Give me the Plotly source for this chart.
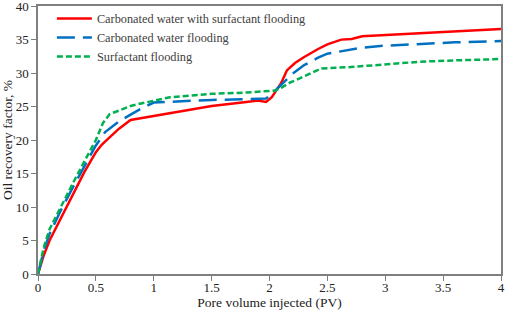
import plotly.graph_objects as go

red_x = [0, 0.05, 0.1, 0.2, 0.3, 0.4, 0.5, 0.55, 0.6, 0.7, 0.8, 0.9, 1.0, 1.2, 1.5, 1.8, 1.9, 1.97, 2.02, 2.1, 2.15, 2.22, 2.3, 2.42, 2.5, 2.62, 2.71, 2.8, 3.0, 3.2, 3.4, 3.6, 3.8, 4.0]
red_y = [0, 2.8, 5.0, 8.4, 11.8, 15.2, 18.2, 19.3, 20.1, 21.7, 23.0, 23.3, 23.7, 24.3, 25.1, 25.7, 25.9, 25.7, 26.4, 28.5, 30.4, 31.5, 32.4, 33.6, 34.3, 35.0, 35.1, 35.5, 35.7, 35.9, 36.1, 36.2, 36.5, 36.6]

blue_x = [0, 0.05, 0.1, 0.2, 0.3, 0.4, 0.5, 0.58, 0.7, 0.8, 0.9, 1.0, 1.2, 1.5, 1.8, 1.97, 2.02, 2.1, 2.2, 2.3, 2.42, 2.5, 2.6, 2.8, 3.0, 3.3, 3.6, 4.0]
blue_y = [0, 3.5, 6.0, 9.6, 12.9, 16.1, 19.2, 21.2, 22.8, 23.8, 24.8, 25.6, 25.8, 26.0, 26.1, 26.2, 26.9, 28.3, 29.9, 31.2, 32.3, 32.9, 33.2, 33.8, 34.1, 34.4, 34.6, 34.8]

green_x = [0, 0.05, 0.1, 0.2, 0.3, 0.4, 0.5, 0.56, 0.62, 0.7, 0.8, 0.9, 1.0, 1.14, 1.5, 1.8, 2.05, 2.1, 2.18, 2.3, 2.38, 2.45, 2.7, 3.0, 3.3, 3.6, 4.0]
green_y = [0, 4.0, 6.7, 10.2, 13.5, 16.8, 20.0, 22.5, 23.9, 24.4, 25.1, 25.5, 25.9, 26.4, 26.9, 27.1, 27.4, 27.8, 28.6, 29.5, 30.1, 30.7, 30.9, 31.3, 31.7, 31.9, 32.1]

names = ["Carbonated water with surfactant flooding", "Carbonated water flooding", "Surfactant flooding"]
x_ticks = [0, 0.5, 1, 1.5, 2, 2.5, 3, 3.5, 4]
x_tick_labels = ["0", "0.5", "1", "1.5", "2", "2.5", "3", "3.5", "4"]
y_ticks = [0, 5, 10, 15, 20, 25, 30, 35, 40]

FONT = "Liberation Serif"
fig = go.Figure()
fig.add_trace(go.Scatter(x=red_x, y=red_y, mode="lines", name=names[0],
                         line=dict(color="#FF0000", width=2.5)))
fig.add_trace(go.Scatter(x=blue_x, y=blue_y, mode="lines", name=names[1],
                         line=dict(color="#0070C0", width=2.5, dash="18px,8px")))
fig.add_trace(go.Scatter(x=green_x, y=green_y, mode="lines", name=names[2],
                         line=dict(color="#00B050", width=2.5, dash="6px,3px")))

axis_common = dict(showgrid=False, zeroline=False, showline=True, linecolor="#7f7f7f",
                   linewidth=1.5, mirror=True, ticks="outside", ticklen=5,
                   tickcolor="#7f7f7f", automargin=False, ticklabeloverflow="allow",
                   tickfont=dict(family=FONT, size=13, color="#222"))
fig.update_layout(
    width=505, height=315,
    margin=dict(l=38, r=4, t=6, b=41),
    paper_bgcolor="white", plot_bgcolor="white",
    font=dict(family=FONT, size=13, color="#222"),
    xaxis=dict(range=[0, 4], tickvals=x_ticks, ticktext=x_tick_labels,
               ticklabelstandoff=-4,
               title=dict(text="Pore volume injected (PV)", standoff=3,
                          font=dict(family=FONT, size=13.5, color="#222")),
               **axis_common),
    yaxis=dict(range=[0, 40.02], tickvals=y_ticks,
               title=dict(text="Oil recovery factor, %", standoff=6,
                          font=dict(family=FONT, size=13.5, color="#222")),
               **axis_common),
    legend=dict(x=0.03, y=1.007, xanchor="left", yanchor="top",
                bgcolor="rgba(0,0,0,0)", font=dict(family=FONT, size=12.3, color="#404040"),
                tracegroupgap=0, itemwidth=35),
    showlegend=True,
)
fig.write_html("out.html", config={"displayModeBar": False},
               post_script="document.body.style.margin='0px';document.body.style.overflow='hidden';")
